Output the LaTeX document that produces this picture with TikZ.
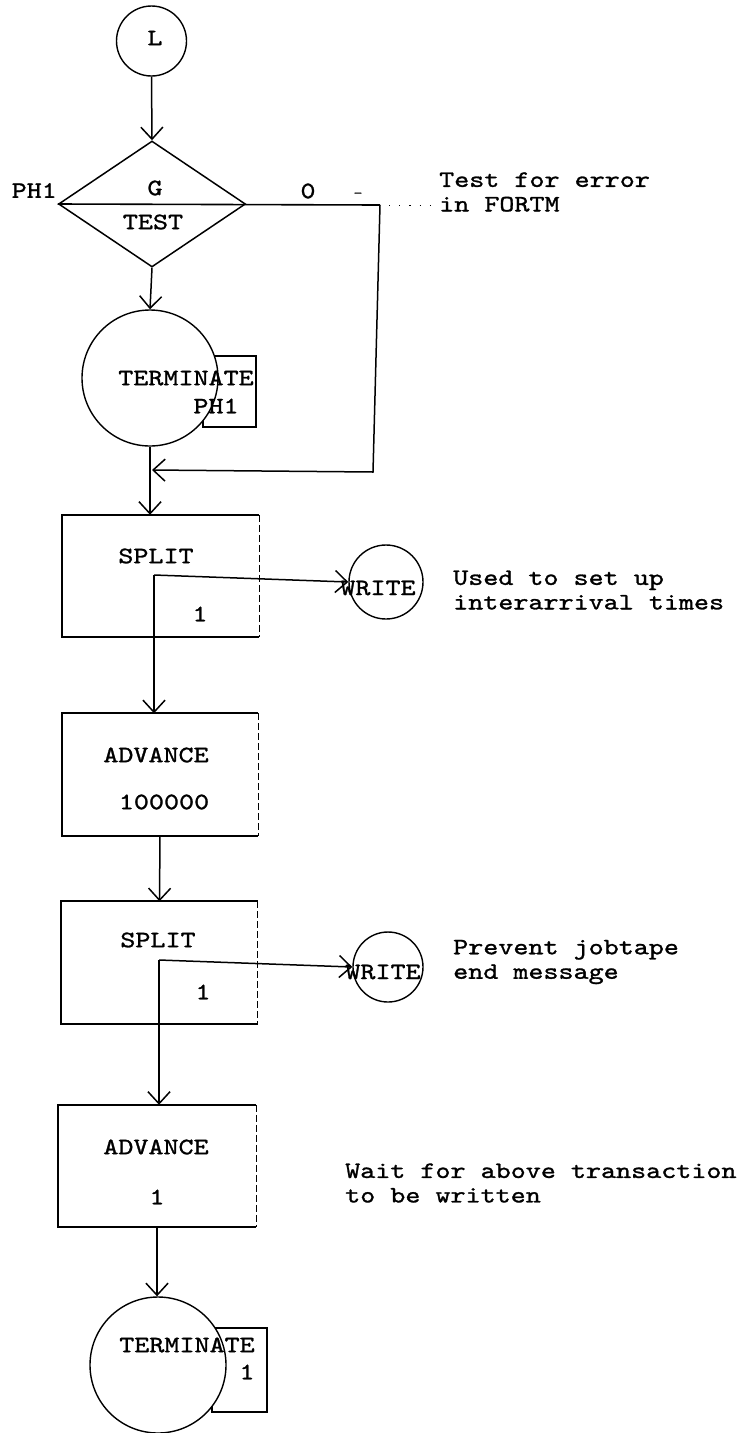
\documentclass[tikz,border=0pt]{standalone}
\usepackage{fontspec}
\setmainfont{lmmono10-regular.otf}[FakeStretch=1.22, FakeBold=1.2]
\usetikzlibrary{shapes.geometric,arrows.meta}
\begin{document}
\begin{tikzpicture}[x=1pt,y=-1pt,
  every node/.style={font=\fontsize{23.5}{24.5}\selectfont, inner sep=0pt},
  conn/.style={line width=1.5pt, -{Straight Barb[length=12pt,width=22pt,line width=1.5pt]}},
  plain/.style={line width=1.6pt},
  ring/.style={circle, draw, line width=1.4pt, fill=white},
  frame/.style={line width=1.9pt},
  faint/.style={line width=0.8pt, dash pattern=on 7pt off 3pt},
  blockbox/.style={minimum width=#1, minimum height=122pt},
  note/.style={anchor=west, align=left}
]
\useasboundingbox (0,0) rectangle (743,1433);

% start circle
\node[ring, minimum size=70pt] (L) at (151.5,41) {};
\node (Ltxt) at (155,38) {L};

% test diamond
\node[diamond, draw, line width=1.5pt, minimum width=187pt, minimum height=126pt] (test) at (152,204) {};
\node (G) at (155,188) {G};
\node (TESTtxt) at (153,222) {TEST};
\node[anchor=south east] (PH) at (57,198) {PH1};
\node (zero) at (308,191) {0};
\node[font=\fontsize{14}{14}\selectfont] (dash) at (358,195) {-};
\coordinate (corner) at (380,205);
\coordinate (c2) at (373,472);
\coordinate (j1) at (152,470);
\draw[plain] (test.west) -- (corner);
\draw[line width=1pt, dash pattern=on 1.2pt off 9pt] (389,205) -- (432,205);
\node[note] (n1) at (439,192) {Test for error\\in FORTM};

% terminate PH1
\node[draw, frame, minimum width=53pt, minimum height=71pt] (t1r) at (229.5,391.5) {};
\node[ring, minimum size=136pt] (t1) at (150,378) {};
\node (t1a) at (186,378) {TERMINATE};
\node (t1b) at (216,406) {PH1};

\draw[conn] (L.south) -- (test.north);
\draw[conn] (test.south) -- (t1.north);
\draw[conn] (corner) -- (c2) -- (j1);

% split 1
\node[blockbox=197pt] (sp1) at (160.5,576) {};
\draw[frame] (sp1.north east) -- (sp1.north west) -- (sp1.south west) -- (sp1.south east);
\draw[faint] (sp1.north east) -- (sp1.south east);
\node (sp1a) at (156,556) {SPLIT};
\node (sp1b) at (200,614) {1};
\draw[conn] (t1.south) -- (t1.south |- sp1.north);

% write 1
\node[ring, minimum size=74pt] (w1) at (386,582) {};
\node (w1t) at (378,588) {WRITE};
\coordinate (s1in) at (154,575);
\draw[conn] (s1in) -- (w1.west);
\node[note] (n2) at (453,590) {Used to set up\\interarrival times};

% advance 1
\node[blockbox=196pt] (ad1) at (160,774.5) {};
\draw[frame] (ad1.north east) -- (ad1.north west) -- (ad1.south west) -- (ad1.south east);
\draw[faint] (ad1.north east) -- (ad1.south east);
\node (ad1a) at (156,755) {ADVANCE};
\node (ad1b) at (164,802) {100000};
\draw[conn] (s1in) -- (s1in |- ad1.north);

% split 2
\node[blockbox=196pt] (sp2) at (159.5,962.5) {};
\draw[frame] (sp2.north east) -- (sp2.north west) -- (sp2.south west) -- (sp2.south east);
\draw[faint] (sp2.north east) -- (sp2.south east);
\node (sp2a) at (158,940) {SPLIT};
\node (sp2b) at (203,992) {1};
\draw[conn] (ad1.south) -- (sp2.north);

% write 2
\node[ring, minimum size=70pt] (w2) at (388,967) {};
\node (w2t) at (383,972) {WRITE};
\coordinate (s2in) at (159,960);
\draw[conn] (s2in) -- (w2.west);
\node[note] (n3) at (453,962) {Prevent jobtape\\end message};

% advance 2
\node[blockbox=198pt] (ad2) at (157,1166) {};
\draw[frame] (ad2.north east) -- (ad2.north west) -- (ad2.south west) -- (ad2.south east);
\draw[faint] (ad2.north east) -- (ad2.south east);
\node (ad2a) at (156,1147) {ADVANCE};
\node (ad2b) at (157,1197) {1};
\draw[conn] (s2in) -- (s2in |- ad2.north);
\node[note] (n4) at (345,1183) {Wait for above transaction\\to be written};

% terminate 1
\node[draw, frame, minimum width=55pt, minimum height=84pt] (t2r) at (239.5,1370) {};
\node[ring, minimum size=136pt] (t2) at (158,1365) {};
\node (t2a) at (187,1345) {TERMINATE};
\node (t2b) at (247,1372) {1};
\draw[conn] (ad2.south) -- (ad2.south |- t2.north);
\end{tikzpicture}
\end{document}
